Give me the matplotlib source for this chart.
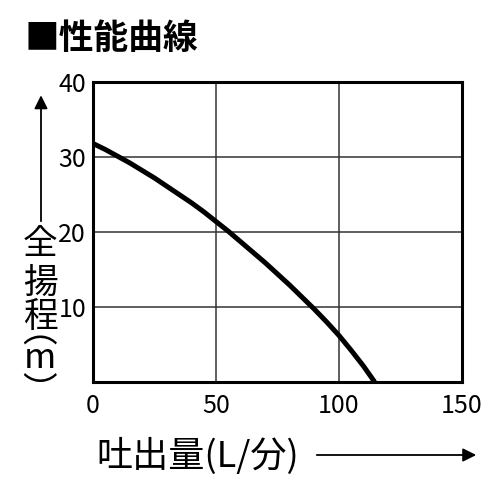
import numpy as np
import matplotlib
matplotlib.use('Agg')
import matplotlib.pyplot as plt

plt.rcParams['font.family'] = ['Noto Sans CJK JP', 'DejaVu Sans']

# pump performance curve
flow = [0, 5, 10, 15, 20, 25, 30, 35, 40, 45, 50, 55, 60, 65, 70,
        75, 80, 85, 90, 95, 100, 105, 110, 114.5]
head = [31.8, 31.0, 30.1, 29.2, 28.2, 27.2, 26.1, 25.0, 23.9, 22.7, 21.4, 20.1, 18.7, 17.3, 15.9,
        14.4, 12.9, 11.3, 9.7, 8.0, 6.2, 4.2, 2.1, 0]

xticks = [0, 50, 100, 150]
yticks = [10, 20, 30, 40]

fig = plt.figure(figsize=(5, 5), dpi=100)
ax = fig.add_axes([0.186, 0.236, 0.738, 0.6])

ax.plot(flow, head, color='black', lw=3.6, solid_capstyle='butt', zorder=3)

ax.set_xlim(0, 150)
ax.set_ylim(0, 40)
ax.set_xticks(xticks)
ax.set_yticks(yticks)
ax.set_yticklabels([str(v) for v in yticks], fontsize=18)
ax.set_xticklabels([str(v) for v in xticks], fontsize=18)
ax.tick_params(axis='both', length=0)
ax.tick_params(axis='y', pad=5)
ax.tick_params(axis='x', pad=8)
ax.grid(True, color='#333333', lw=1.1)
for s in ax.spines.values():
    s.set_linewidth(2.2)

# title
fig.text(0.05, 0.924, '■性能曲線', fontsize=25, fontweight='bold', va='center', ha='left')

# y label, stacked vertically
ylab_x = 0.08
for ch, ypx in [('全', 245), ('揚', 283), ('程', 318), ('m', 358)]:
    fig.text(ylab_x, 1 - ypx / 500, ch, fontsize=25, ha='center', va='center')
# vertical-form brackets sit off-centre in their em box
fig.text(ylab_x, 1 - 332 / 500, '︵', fontsize=25, ha='center', va='center')
fig.text(ylab_x, 1 - 393 / 500, '︶', fontsize=25, ha='center', va='center')
fig.add_artist(matplotlib.patches.FancyArrowPatch(
    (0.082, 0.552), (0.082, 0.815), transform=fig.transFigure,
    arrowstyle='-|>,head_length=8,head_width=4', lw=1.3, color='black'))

# x label with arrow
fig.text(0.193, 0.087, '吐出量(L/分)', fontsize=26, ha='left', va='center')
fig.add_artist(matplotlib.patches.FancyArrowPatch(
    (0.628, 0.09), (0.958, 0.09), transform=fig.transFigure,
    arrowstyle='-|>,head_length=8,head_width=4', lw=1.3, color='black'))

fig.savefig('out.png', dpi=100)
